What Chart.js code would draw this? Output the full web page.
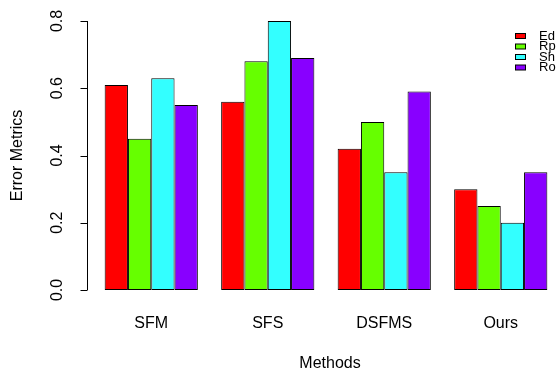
<!DOCTYPE html>
<html>
<head>
<meta charset="utf-8">
<script src="https://cdn.jsdelivr.net/npm/chart.js@4.4.0/dist/chart.umd.min.js"></script>
<style>
  body { margin: 0; background: #fff; }
  canvas { display: block; }
</style>
</head>
<body>
<canvas id="chart1" width="559" height="370"></canvas>
<script>
// data
const methods = ["SFM", "SFS", "DSFMS", "Ours"];
const seriesNames = ["Ed", "Rp", "Sh", "Ro"];
const edValues = [0.61, 0.56, 0.42, 0.30];
const rpValues = [0.45, 0.68, 0.50, 0.25];
const shValues = [0.63, 0.80, 0.35, 0.20];
const roValues = [0.55, 0.69, 0.59, 0.35];
const yTicks = [0.0, 0.2, 0.4, 0.6, 0.8];
const yTickLabels = ["0.0", "0.2", "0.4", "0.6", "0.8"];

const colors = ["#FF0000", "#66FF00", "#33FFFF", "#8800FF"];
const FONT = "'Liberation Sans', Arial, Helvetica, sans-serif";

// R style axes, labels and legend drawn on top
const rStyle = {
    id: "rStyle",
    afterDraw(chart) {
        const ctx = chart.ctx;
        const x = chart.scales.x;
        const y = chart.scales.y;
        const area = chart.chartArea;
        ctx.save();
        ctx.fillStyle = "#000";
        ctx.strokeStyle = "#000";
        ctx.lineWidth = 1;

        // y axis line + ticks
        const axisX = 87.5;
        ctx.beginPath();
        ctx.moveTo(axisX, y.getPixelForValue(yTicks[0]));
        ctx.lineTo(axisX, y.getPixelForValue(yTicks[yTicks.length - 1]));
        yTicks.forEach(v => {
            const py = Math.round(y.getPixelForValue(v)) + 0.5;
            ctx.moveTo(axisX, py);
            ctx.lineTo(axisX - 7, py);
        });
        ctx.stroke();

        // tick labels, rotated like R
        ctx.font = "16px " + FONT;
        ctx.textAlign = "center";
        ctx.textBaseline = "middle";
        yTicks.forEach((v, i) => {
            ctx.save();
            ctx.translate(58, y.getPixelForValue(v));
            ctx.rotate(-Math.PI / 2);
            ctx.fillText(yTickLabels[i], 0, 0);
            ctx.restore();
        });

        // y title
        ctx.save();
        ctx.translate(18, (y.getPixelForValue(0) + y.getPixelForValue(0.8)) / 2);
        ctx.rotate(-Math.PI / 2);
        ctx.fillText("Error Metrics", 0, 0);
        ctx.restore();

        // category labels
        methods.forEach((m, i) => {
            ctx.fillText(m, x.getPixelForValue(i), 323.5);
        });

        // x title
        ctx.fillText("Methods", (area.left + area.right) / 2 + 4, 364);

        // legend (cut off at the right edge like the original)
        ctx.font = "13px " + FONT;
        ctx.textAlign = "left";
        seriesNames.forEach((name, i) => {
            const cy = 36 + i * 10.5;
            ctx.fillStyle = colors[i];
            ctx.fillRect(515.5, cy - 2.5, 10, 5);
            ctx.strokeRect(515.5, cy - 2.5, 10, 5);
            ctx.fillStyle = "#000";
            ctx.fillText(name, 539, cy);
        });
        ctx.restore();
    }
};

const datasets = [edValues, rpValues, shValues, roValues].map((vals, i) => ({
    label: seriesNames[i],
    data: vals,
    backgroundColor: colors[i],
    borderColor: "#000",
    borderWidth: 1,
    borderSkipped: false,
    categoryPercentage: 0.8,
    barPercentage: 1.0
}));

new Chart(document.getElementById("chart1").getContext("2d"), {
    type: "bar",
    data: { labels: methods, datasets: datasets },
    options: {
        responsive: false,
        animation: false,
        layout: { padding: { left: 93, right: 0, top: 21, bottom: 80 } },
        plugins: { legend: { display: false }, tooltip: { enabled: false } },
        scales: {
            x: { display: false },
            y: { display: false, min: 0, max: 0.8 }
        }
    },
    plugins: [rStyle]
});
</script>
</body>
</html>
